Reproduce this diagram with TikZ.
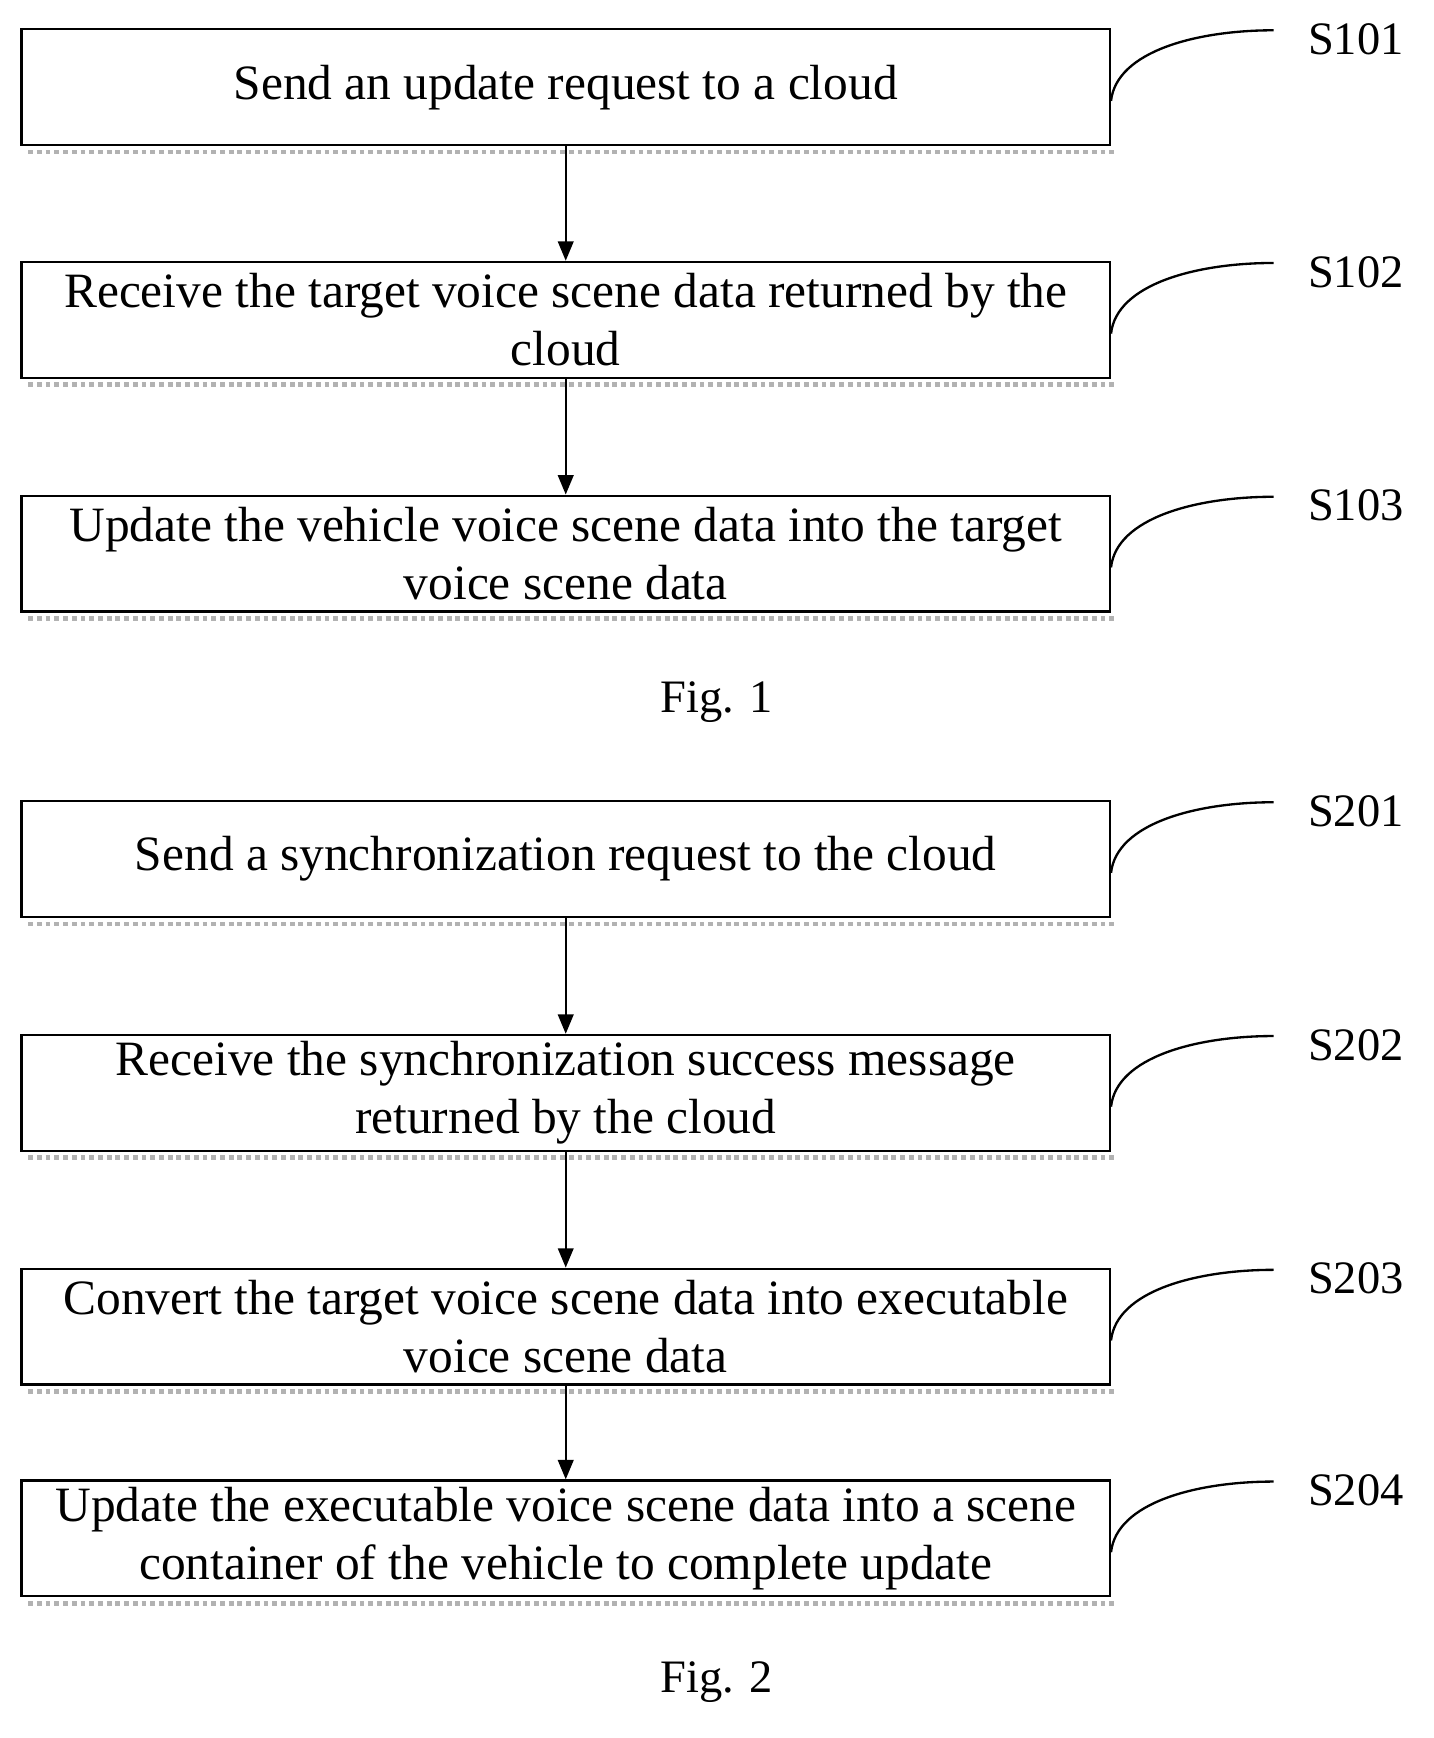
\documentclass[tikz,border=0pt]{standalone}
\usepackage{fontspec}
\setmainfont{Liberation Serif}
\usetikzlibrary{positioning,arrows.meta}
\tikzset{
  stepbox/.style={draw, line width=1.2pt, minimum width=19.74cm, minimum height=2.1cm,
    align=center, inner sep=0pt, font=\fontsize{25.5}{30}\selectfont},
  shade/.style={draw=gray!60, line width=2.5pt, dotted},
  flow/.style={-{Triangle[length=10pt,width=8pt]}, line width=1.2pt},
  tag/.style={font=\fontsize{24}{26}\selectfont},
  lead/.style={line width=1.2pt}
}
\begin{document}
\begin{tikzpicture}[x=0.02cm,y=-0.02cm]
\useasboundingbox (0,0) rectangle (1300,1576);
% Fig. 1
\node[stepbox] (s101) at (513,79) {Send an update request to a cloud};
\node[stepbox] (s102) at (513,290) {Receive the target voice scene data returned by the\\cloud};
\node[stepbox] (s103) at (513,502) {Update the vehicle voice scene data into the target\\voice scene data};
\node[tag] (fig1) at (650,637) {Fig. 1};
% Fig. 2
\node[stepbox] (s201) at (513,779) {Send a synchronization request to the cloud};
\node[stepbox] (s202) at (513,991) {Receive the synchronization success message\\returned by the cloud};
\node[stepbox] (s203) at (513,1203) {Convert the target voice scene data into executable\\voice scene data};
\node[stepbox] (s204) at (513,1395) {Update the executable voice scene data into a scene\\container of the vehicle to complete update};
\node[tag] (fig2) at (650,1525) {Fig. 2};
% shadows, step labels
\foreach \s in {101,102,103,201,202,203,204}{
  \draw[shade] ([xshift=4pt,yshift=-3pt]s\s.south west) -- ([xshift=3pt,yshift=-3pt]s\s.south east);
  \node[tag, anchor=west] (t\s) at ([xshift=3.45cm,yshift=-0.2cm]s\s.north east) {S\s};
  \coordinate (c\s) at ([xshift=2.95cm,yshift=-0.04cm]s\s.north east);
  \draw[lead] ([yshift=-0.25cm]s\s.east) .. controls +(0.1cm,0.9cm) and +(-1.4cm,0cm) .. (c\s);
}
% arrows
\draw[flow] (s101) -- (s102);
\draw[flow] (s102) -- (s103);
\draw[flow] (s201) -- (s202);
\draw[flow] (s202) -- (s203);
\draw[flow] (s203) -- (s204);
\end{tikzpicture}
\end{document}
